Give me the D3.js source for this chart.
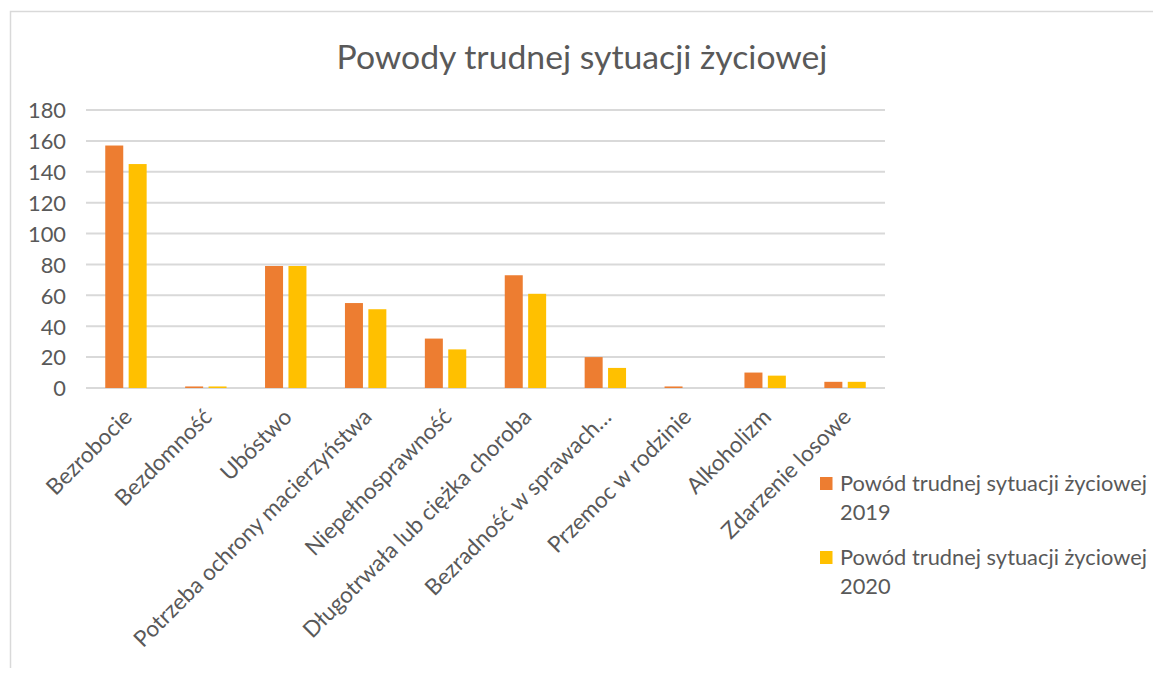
<!DOCTYPE html>
<html><head><meta charset="utf-8">
<script src="https://cdn.jsdelivr.net/npm/d3@7"></script>
<style>
html,body{margin:0;padding:0;background:#fff;}
svg{display:block;}
</style></head>
<body>
<svg id="chart" width="1153" height="676"></svg>
<script>
const categories = ["Bezrobocie","Bezdomność","Ubóstwo","Potrzeba ochrony macierzyństwa","Niepełnosprawność","Długotrwała lub ciężka choroba","Bezradność w sprawach…","Przemoc w rodzinie","Alkoholizm","Zdarzenie losowe"];
const values2019 = [157, 1, 79, 55, 32, 73, 20, 1, 10, 4];
const values2020 = [145, 1, 79, 51, 25, 61, 13, 0, 8, 4];
const seriesNames = ["Powód trudnej sytuacji życiowej 2019","Powód trudnej sytuacji życiowej 2020"];
const yTicks = [0,20,40,60,80,100,120,140,160,180];
const title = "Powody trudnej sytuacji życiowej";

const FONT = "Lato, 'Open Sans', sans-serif";
const TXT = "#595959";
const colors = ["#ED7D31","#FFC000"];

const svg = d3.select("#chart");

function fitSize(str, target){
  const t = svg.append("text").attr("font-family",FONT).attr("font-size",100).text(str);
  const w = t.node().getComputedTextLength();
  t.remove();
  return 100*target/w;
}
const smallSize = fitSize("Powód trudnej sytuacji życiowej", 307);
const titleSize = fitSize(title, 491);

// border
svg.append("path").attr("d","M10.5,668 V11.5 H1153").attr("fill","none").attr("stroke","#D9D9D9").attr("stroke-width",1.5);

const plotL = 86, plotR = 885, plotT = 110, plotB = 388;
const x = d3.scaleBand().domain(categories).range([plotL,plotR]).paddingInner(0).paddingOuter(0);
const y = d3.scaleLinear().domain([0,180]).range([plotB,plotT]);

// gridlines
svg.append("g").selectAll("line").data(yTicks).join("line")
  .attr("x1",plotL).attr("x2",plotR)
  .attr("y1",d=>y(d)).attr("y2",d=>y(d))
  .attr("stroke","#D9D9D9").attr("stroke-width",2);

// y axis labels
const yAxis = d3.axisLeft(y).tickValues(yTicks).tickSize(0).tickPadding(0);
const yg = svg.append("g").attr("transform",`translate(66,0)`).call(yAxis);
yg.select(".domain").remove();
yg.selectAll("text").attr("font-family",FONT).attr("font-size",smallSize).attr("fill",TXT).attr("dy","0.36em");

// bars
const bw = x.bandwidth();
const barW = bw*0.2253;
const gap = barW*0.3;
const start = (bw - (2*barW+gap))/2;
const series = [values2019, values2020];
series.forEach((vals,si)=>{
  svg.append("g").selectAll("rect").data(vals).join("rect")
    .attr("x",(d,i)=>x(categories[i]) + start + si*(barW+gap))
    .attr("width",barW)
    .attr("y",d=>y(d))
    .attr("height",d=>y(0)-y(d))
    .attr("fill",colors[si]);
});

// x axis labels
const xg = svg.append("g");
xg.selectAll("text").data(categories).join("text")
  .attr("transform",d=>`translate(${x(d)+bw/2-4},407) rotate(-45)`)
  .attr("text-anchor","end")
  .attr("dy","0.72em")
  .attr("font-family",FONT).attr("font-size",smallSize*1.03).attr("fill",TXT)
  .text(d=>d);

// title
svg.append("text").attr("x",582).attr("y",69).attr("text-anchor","middle")
  .attr("font-family",FONT).attr("font-size",titleSize).attr("fill",TXT).text(title);

// legend
const legY = [477, 551];
seriesNames.forEach((name,i)=>{
  const g = svg.append("g");
  g.append("rect").attr("x",820).attr("y",legY[i]).attr("width",12.5).attr("height",13).attr("fill",colors[i]);
  const parts = [name.slice(0,name.lastIndexOf(" ")), name.slice(name.lastIndexOf(" ")+1)];
  const t = g.append("text").attr("font-family",FONT).attr("font-size",smallSize).attr("fill",TXT);
  parts.forEach((p,j)=>{
    t.append("tspan").attr("x",840).attr("y",legY[i]+14+j*29).text(p);
  });
});
</script>
</body></html>
